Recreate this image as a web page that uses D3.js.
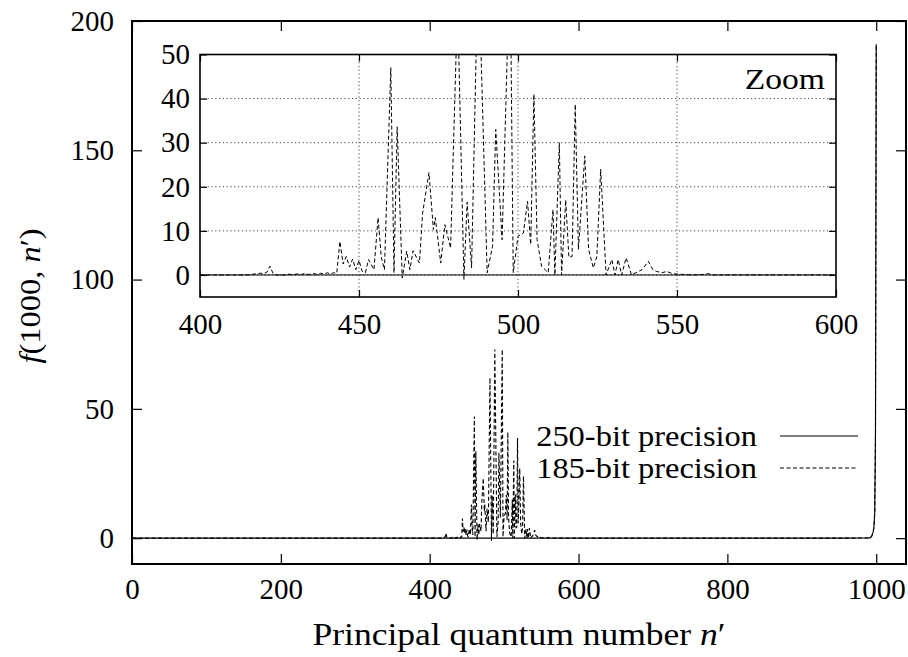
<!DOCTYPE html>
<html>
<head>
<meta charset="utf-8">
<script src="https://cdn.jsdelivr.net/npm/d3@7"></script>
<style>
  body { margin: 0; background: #fff; }
  text { font-family: "Liberation Serif", "DejaVu Serif", serif; fill: #000; }
</style>
</head>
<body>
<svg id="svg_main" width="908" height="657"></svg>
<script>
// main axis ticks
var mainXTicks = [0, 200, 400, 600, 800, 1000]
var mainYTicks = [0, 50, 100, 150, 200]
var zoomXTicks = [400, 450, 500, 550, 600]
var zoomYTicks = [0, 10, 20, 30, 40, 50]

// 185-bit precision, region of the noise
var noiseN = [
  400, 415, 417, 419, 420, 421, 422, 423, 424, 427,
  428, 429, 431, 432, 433, 434, 436, 437, 438, 439,
  440, 441, 442, 443, 444, 445, 446, 447, 448, 449,
  450, 451, 452, 453, 454.7, 456, 457, 458, 460, 461,
  462, 463.6, 465, 466, 467, 469, 470, 472, 473.4, 474,
  475.7, 477, 478.8, 481, 483, 484, 485.4, 487.5, 490.3, 492,
  493, 495, 497.5, 498.5, 500, 501.7, 503, 504, 505, 506,
  507.4, 509.5, 511, 511.6, 513, 513.7, 515, 516, 517, 518,
  519, 521, 522.2, 523.7, 524.8, 526, 527.7, 529.5, 530.5, 531.5,
  532.6, 534, 535.7, 539, 541, 542.4, 543.6, 545.2, 546.8, 548.5,
  550, 555, 558, 560, 561, 570]
var noiseF185 = [
  0, 0, 0.2, 0.4, 0.3, 0.6, 2.0, 0.3, 0, 0,
  0.2, 0, 0.3, 0.1, 0.4, 0.1, 0.3, 0.1, 0.4, 0.2,
  0.5, 0.2, 0.5, 0.4, 7.6, 2.5, 4.2, 1.8, 3.6, 1.2,
  3.3, 0.8, 0.5, 3.5, 1.2, 13, 4, 1.2, 47, 0.5,
  33.6, -0.7, 5.4, 1.2, 5.5, 2.7, 14, 23.2, 10.3, 13,
  2.7, 11.4, 6.1, 62, -1, 16.5, 1.6, 73, 0.5, 6.5,
  33, 8, 73, 0.5, 8.8, 9.5, 16.7, 6.9, 41, 8,
  2, 0.5, 14.8, 0, 30, 0, 17, 4, 4.2, 38.7,
  5.8, 27, 5.8, 1.6, 4.2, 24, 0, 3.5, 0, 3.5,
  0, 3.9, 0, 1.2, 3.1, 1.2, 0.8, 0.5, 0.8, 0.3,
  0.2, 0, 0.1, 0.3, 0, 0]

// both curves near n' = n = 1000
var tailN = [700, 960, 985, 990, 992, 994, 996, 997, 998, 999, 1000]
var tailF = [0, 0, 0.05, 0.1, 0.2, 0.8, 2.5, 4.5, 10, 40, 191]

// 250-bit precision stays at zero before the tail
var startN250 = [0, 400, 570]
var startF250 = [0, 0, 0]

var series = [
  {name: '250-bit precision', dash: null,
   n: startN250.concat(tailN), f: startF250.concat(tailF)},
  {name: '185-bit precision', dash: '4,2.5',
   n: [0].concat(noiseN, tailN), f: [0].concat(noiseF185, tailF)}
]

const svg = d3.select('#svg_main')
const FONT = '"Liberation Serif", "DejaVu Serif", serif'
const numFont = 29, wordFont = 29, stretch = 1.12

// ---------- main plot ----------
const x = d3.scaleLinear().domain([0, 1040]).range([132, 906])
const y = d3.scaleLinear().domain([-10, 200]).range([564, 21])

svg.append('clipPath').attr('id', 'clipMain')
  .append('rect').attr('x', 132).attr('y', 21).attr('width', 774).attr('height', 543)

const mainTick = 10
function styleAxis(g, fs) {
  g.select('.domain').remove()
  g.selectAll('line').attr('stroke', '#000').attr('stroke-width', 1.2)
  g.selectAll('text').style('font-size', fs + 'px').style('font-family', FONT)
}
const fmt = d3.format('d')

svg.append('g').attr('transform', 'translate(0,564)')
  .call(d3.axisBottom(x).tickValues(mainXTicks).tickSize(-mainTick).tickPadding(14).tickFormat(fmt))
  .call(g => styleAxis(g, numFont))
svg.append('g').attr('transform', 'translate(0,21)')
  .call(d3.axisTop(x).tickValues(mainXTicks).tickSize(-mainTick).tickFormat(''))
  .call(g => styleAxis(g, numFont))
svg.append('g').attr('transform', 'translate(132,0)')
  .call(d3.axisLeft(y).tickValues(mainYTicks).tickSize(-mainTick).tickPadding(18).tickFormat(fmt))
  .call(g => styleAxis(g, numFont))
svg.append('g').attr('transform', 'translate(906,0)')
  .call(d3.axisRight(y).tickValues(mainYTicks).tickSize(-mainTick).tickFormat(''))
  .call(g => styleAxis(g, numFont))

const mainLine = d3.line().x(d => x(d[0])).y(d => y(d[1]))
const mainG = svg.append('g').attr('clip-path', 'url(#clipMain)')
series.forEach(function(s) {
  mainG.append('path')
    .datum(s.n.map((v, i) => [v, s.f[i]]))
    .attr('d', mainLine)
    .attr('fill', 'none')
    .attr('stroke', '#000')
    .attr('stroke-width', 1.1)
    .attr('stroke-dasharray', s.dash)
})

svg.append('rect').attr('x', 132).attr('y', 21).attr('width', 774).attr('height', 543)
  .attr('fill', 'none').attr('stroke', '#000').attr('stroke-width', 2)

// axis titles
const yl = svg.append('text')
  .attr('transform', 'translate(40,296) rotate(-90) scale(' + stretch + ',1)')
  .attr('text-anchor', 'middle')
  .style('font-family', FONT)
  .style('font-size', wordFont + 'px')
yl.append('tspan').style('font-style', 'italic').text('f')
yl.append('tspan').text('(1000, ')
yl.append('tspan').style('font-style', 'italic').text('n')
yl.append('tspan').text('′)')

const xl = svg.append('text')
  .attr('transform', 'translate(519,645) scale(1.11,1)')
  .attr('text-anchor', 'middle')
  .style('font-family', FONT)
  .style('font-size', '32px')
xl.append('tspan').text('Principal quantum number ')
xl.append('tspan').style('font-style', 'italic').text('n')
xl.append('tspan').text('′')

// legend
series.forEach(function(s, i) {
  const ly = 436 + i * 32
  svg.append('text')
    .attr('transform', 'translate(757,' + ly + ') scale(' + stretch + ',1)')
    .attr('dy', '0.35em')
    .attr('text-anchor', 'end')
    .style('font-family', FONT)
    .style('font-size', wordFont + 'px').text(s.name)
  svg.append('line').attr('x1', 780).attr('x2', 858).attr('y1', ly).attr('y2', ly)
    .attr('stroke', '#000').attr('stroke-width', 1.1)
    .attr('stroke-dasharray', s.dash)
})

// ---------- zoom inset ----------
const ix = d3.scaleLinear().domain([400, 600]).range([200, 836])
const iy = d3.scaleLinear().domain([-5, 50]).range([297, 54.5])

svg.append('rect').attr('x', 200).attr('y', 54.5).attr('width', 636).attr('height', 242.5)
  .attr('fill', '#fff')
svg.append('clipPath').attr('id', 'clipZoom')
  .append('rect').attr('x', 200).attr('y', 54.5).attr('width', 636).attr('height', 242.5)

// dotted grid
const grid = svg.append('g')
grid.selectAll('.gy').data([0, 10, 20, 30, 40]).enter().append('line')
  .attr('x1', 200).attr('x2', 836).attr('y1', d => iy(d)).attr('y2', d => iy(d))
grid.selectAll('.gx').data([450, 500, 550]).enter().append('line')
  .attr('y1', 54.5).attr('y2', 297).attr('x1', d => ix(d)).attr('x2', d => ix(d))
grid.selectAll('line').attr('stroke', '#444').attr('stroke-width', 1)
  .attr('stroke-dasharray', '1.2,2.6')

const zTick = 7
svg.append('g').attr('transform', 'translate(0,297)')
  .call(d3.axisBottom(ix).tickValues(zoomXTicks).tickSize(-zTick).tickPadding(16).tickFormat(fmt))
  .call(g => styleAxis(g, numFont))
svg.append('g').attr('transform', 'translate(0,54.5)')
  .call(d3.axisTop(ix).tickValues(zoomXTicks).tickSize(-zTick).tickFormat(''))
  .call(g => styleAxis(g, numFont))
svg.append('g').attr('transform', 'translate(200,0)')
  .call(d3.axisLeft(iy).tickValues(zoomYTicks).tickSize(-zTick).tickPadding(10).tickFormat(fmt))
  .call(g => styleAxis(g, numFont))
svg.append('g').attr('transform', 'translate(836,0)')
  .call(d3.axisRight(iy).tickValues(zoomYTicks).tickSize(-zTick).tickFormat(''))
  .call(g => styleAxis(g, numFont))

const zoomLine = d3.line().x(d => ix(d[0])).y(d => iy(d[1]))
const zoomG = svg.append('g').attr('clip-path', 'url(#clipZoom)')
series.forEach(function(s) {
  zoomG.append('path')
    .datum(s.n.map((v, i) => [v, s.f[i]]).filter(d => d[0] >= 380 && d[0] <= 700))
    .attr('d', zoomLine)
    .attr('fill', 'none')
    .attr('stroke', '#000')
    .attr('stroke-width', 1)
    .attr('stroke-dasharray', s.dash)
})

svg.append('rect').attr('x', 200).attr('y', 54.5).attr('width', 636).attr('height', 242.5)
  .attr('fill', 'none').attr('stroke', '#000').attr('stroke-width', 1.6)

svg.append('text')
  .attr('transform', 'translate(825,78) scale(' + stretch + ',1)')
  .attr('dy', '0.35em')
  .attr('text-anchor', 'end')
  .style('font-family', FONT)
  .style('font-size', '30px').text('Zoom')
</script>
</body>
</html>
